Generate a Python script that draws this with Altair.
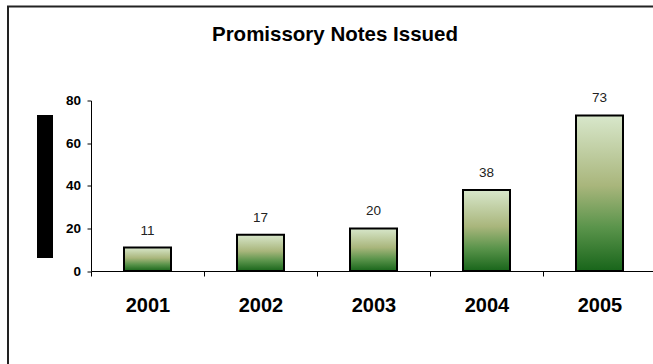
import altair as alt
import pandas as pd

years = ["2001", "2002", "2003", "2004", "2005"]
notes = [11, 17, 20, 38, 73]
y_ticks = [0, 20, 40, 60, 80]
title_text = "Promissory Notes Issued"

df = pd.DataFrame({"year": years, "notes": notes})
FONT = "Liberation Sans"

x_enc = alt.X(
    "year:N",
    sort=years,
    scale=alt.Scale(range=[0, 565], paddingInner=0, paddingOuter=0),
    axis=alt.Axis(
        title=None, labelAngle=0, tickBand="extent", tickSize=5,
        tickColor="black", domainColor="black", domainWidth=1,
        labelFont=FONT, labelFontSize=20, labelFontWeight="bold",
        labelColor="black", labelPadding=19,
    ),
)
y_enc = alt.Y(
    "notes:Q",
    scale=alt.Scale(domain=[0, 80], nice=False),
    axis=alt.Axis(
        title=None, values=y_ticks, grid=False, tickSize=4,
        tickColor="black", domainColor="black", domainWidth=1,
        labelFont=FONT, labelFontSize=13.5, labelFontWeight="bold",
        labelColor="black", labelPadding=6.5,
    ),
)

gradient = alt.Gradient(
    gradient="linear",
    stops=[
        alt.GradientStop(color="#d8e7cb", offset=0),
        alt.GradientStop(color="#a9b67c", offset=0.45),
        alt.GradientStop(color="#5a944b", offset=0.72),
        alt.GradientStop(color="#18651a", offset=1),
    ],
    x1=0, x2=0, y1=0, y2=1,
)

base = alt.Chart(df)
bars = base.mark_bar(size=47, color=gradient, stroke="black", strokeWidth=2).encode(x=x_enc, y=y_enc)
labels = base.mark_text(
    font=FONT, fontSize=13.5, color="#222222", baseline="alphabetic", dy=-13
).encode(x=alt.X("year:N", sort=years), y="notes:Q", text="notes:Q")

deco = alt.Chart(pd.DataFrame({"k": [0], "title": [title_text]}))
black_box = deco.mark_rect(color="black").encode(
    x=alt.value(-54), x2=alt.value(-38), y=alt.value(14.5), y2=alt.value(157.5)
)
frame_left = deco.mark_rule(color="#222222", strokeWidth=2).encode(
    x=alt.value(-83), y=alt.value(-94), y2=alt.value(300)
)
frame_top = deco.mark_rule(color="#222222", strokeWidth=2).encode(
    x=alt.value(-84), x2=alt.value(600), y=alt.value(-94)
)
title = deco.mark_text(
    font=FONT, fontSize=20.5, fontWeight="bold", color="black",
    align="center", baseline="alphabetic",
).encode(x=alt.value(244), y=alt.value(-59.5), text="title:N")

chart = alt.layer(frame_left, frame_top, black_box, title, bars, labels).properties(
    width=562,
    height=170.5,
    autosize=alt.AutoSizeParams(type="none"),
    padding={"left": 91, "top": 100.5, "right": 0, "bottom": 93},
    background="white",
).configure_view(stroke=None)

chart.save("out.html", embed_options={"renderer": "svg", "actions": False})
